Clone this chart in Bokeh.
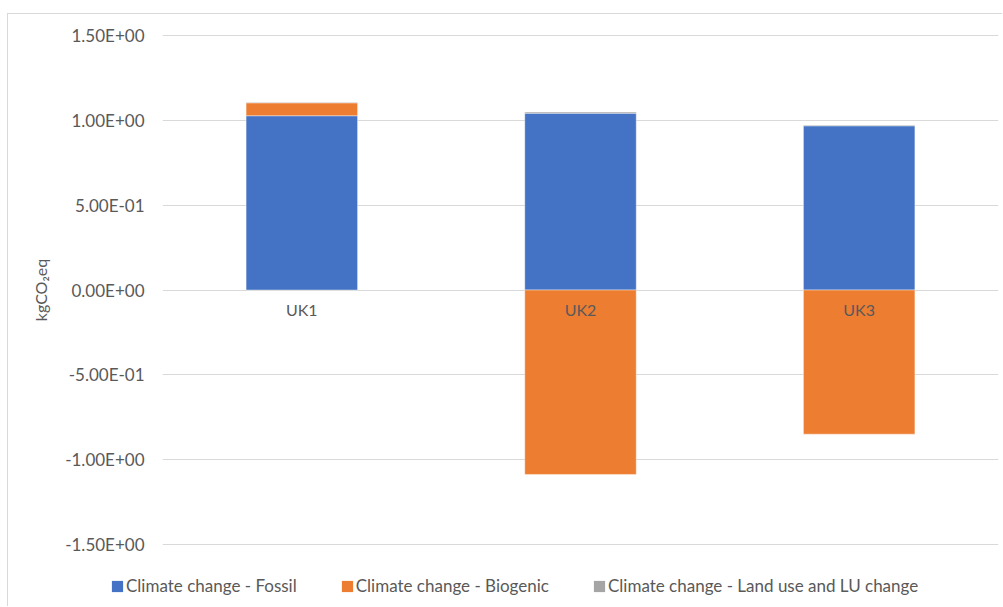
import numpy as np
from bokeh.plotting import figure
from bokeh.layouts import column
from bokeh.models import FixedTicker, Legend, LegendItem, Range1d
from bokeh.embed import file_html
from bokeh.resources import INLINE

# ---- data ----
categories = ["UK1", "UK2", "UK3"]
fossil = [1.025, 1.040, 0.966]
biogenic = [0.076, -1.085, -0.848]
land_use = [0.003, 0.007, 0.004]
series_names = ["Climate change - Fossil",
                "Climate change - Biogenic",
                "Climate change - Land use and LU change"]
y_ticks = [-1.5, -1.0, -0.5, 0.0, 0.5, 1.0, 1.5]
y_tick_labels = ["-1.50E+00", "-1.00E+00", "-5.00E-01", "0.00E+00",
                 "5.00E-01", "1.00E+00", "1.50E+00"]
y_label = "kgCO\u2082eq"

colors = ["#4472C4", "#ED7D31", "#A5A5A5"]
FONT = "Lato"
TXT = "#595959"

# stacking (positive values stack upward, negative downward)
series = [fossil, biogenic, land_use]
pos_base = np.zeros(len(categories))
neg_base = np.zeros(len(categories))
bottoms, tops = [], []
for s in series:
    v = np.array(s, dtype=float)
    b = np.where(v >= 0, pos_base, neg_base)
    t = b + v
    pos_base = np.where(v >= 0, t, pos_base)
    neg_base = np.where(v < 0, t, neg_base)
    bottoms.append(b)
    tops.append(t)

p = figure(x_range=categories, y_range=(-1.503, 1.503), width=994, height=561,
           output_backend="svg", toolbar_location=None,
           min_border_left=154, min_border_right=4,
           min_border_top=20, min_border_bottom=30)
p.frame_align = False

for name, b, t, c in zip(series_names, bottoms, tops, colors):
    p.vbar(x=categories, bottom=b, top=t, width=0.4, fill_color=c,
           line_color="white", line_alpha=0.5, line_width=0.8)

p.outline_line_color = None
p.xgrid.grid_line_color = None
p.ygrid.grid_line_color = "#D9D9D9"
p.ygrid.grid_line_width = 1
p.ygrid.ticker = FixedTicker(ticks=y_ticks)

ya = p.yaxis[0]
ya.ticker = FixedTicker(ticks=y_ticks)
ya.major_label_overrides = dict(zip(y_ticks, y_tick_labels))
ya.axis_line_color = None
ya.major_tick_line_color = None
ya.minor_tick_line_color = None
ya.major_tick_out = 0
ya.major_tick_in = 0
ya.minor_tick_out = 0
ya.major_label_standoff = 18
ya.major_label_text_font = FONT
ya.major_label_text_font_size = "17px"
ya.major_label_text_color = TXT
ya.axis_label = y_label
ya.axis_label_text_font = FONT
ya.axis_label_text_font_size = "16px"
ya.axis_label_text_font_style = "normal"
ya.axis_label_text_color = TXT
ya.axis_label_standoff = 12

xa = p.xaxis[0]
xa.fixed_location = 0
xa.axis_line_color = None
xa.major_tick_line_color = None
xa.minor_tick_line_color = None
xa.major_tick_out = 0
xa.major_tick_in = 0
xa.major_label_standoff = 10
xa.major_label_text_font = FONT
xa.major_label_text_font_size = "16px"
xa.major_label_text_color = TXT

# legend strip: same series, drawn hidden, only so the legend can show their keys
lg = figure(x_range=categories, y_range=Range1d(10, 11), width=994, height=31,
            output_backend="svg", toolbar_location=None,
            x_axis_location=None, y_axis_location=None,
            min_border_left=0, min_border_right=0, min_border_top=0, min_border_bottom=0)
lg.frame_align = False
lg.grid.visible = False
lg.outline_line_color = None
keys = []
for b, t, c in zip(bottoms, tops, colors):
    r = lg.vbar(x=categories, bottom=b, top=t, width=0.4, fill_color=c, line_color=None)
    r.visible = False
    keys.append(r)
legend = Legend(items=[LegendItem(label=n, renderers=[r]) for n, r in zip(series_names, keys)],
                orientation="horizontal", location=(102, 10),
                padding=0, margin=0, spacing=43, glyph_width=14, glyph_height=14,
                label_standoff=2, label_text_font=FONT, label_text_font_size="17px",
                label_text_color=TXT, border_line_alpha=0, background_fill_alpha=0,
                inactive_fill_alpha=0)
lg.add_layout(legend)

layout = column(p, lg, spacing=0)
layout.styles = {"margin-left": "7px", "margin-top": "13px",
                 "border-left": "1px solid #D9D9D9", "border-top": "1px solid #D9D9D9"}

open("out.html", "w").write(file_html(layout, INLINE))
